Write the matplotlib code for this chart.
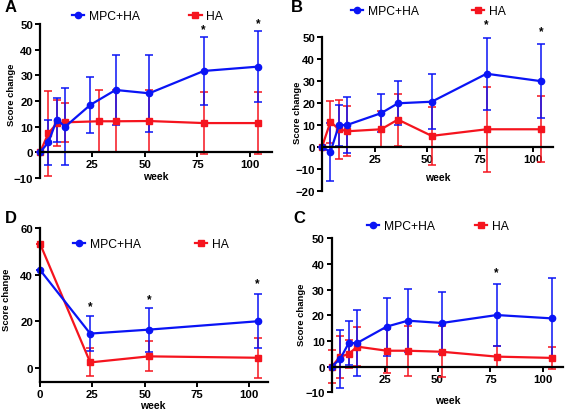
import matplotlib
matplotlib.use("Agg")
import matplotlib.pyplot as plt
from matplotlib.lines import Line2D

plt.rcParams["font.family"] = ["Liberation Sans", "DejaVu Sans"]

BLUE = "#0a14f5"
RED = "#f5141e"

# ---- panel A ----
A_WEEKS_MPC = [0, 4, 8, 12, 24, 36, 52, 78, 104]
A_MPC = [0, 3.9, 12.7, 10, 18.5, 24.3, 23, 31.7, 33.4]
A_MPC_ERR = [0, 8.7, 8.5, 15, 11, 13.8, 15, 13.3, 13.9]
A_WEEKS_HA = [0, 4, 8, 12, 28, 36, 52, 78, 104]
A_HA = [0, 7.4, 11.3, 11.7, 12.1, 12.1, 12.2, 11.4, 11.4]
A_HA_ERR = [0, 16.6, 9, 7.7, 12, 12.1, 12.2, 12, 12]
A_STARS = [(78, 47.8), (104, 50.4)]

# ---- panel B ----
B_WEEKS = [0, 4, 8, 12, 28, 36, 52, 78, 104]
B_MPC = [0, -2.3, 9.8, 10, 15.3, 19.8, 20.5, 33.2, 29.8]
B_MPC_ERR = [0, 13, 9.3, 12.8, 8.7, 10, 12.5, 16.3, 16.7]
B_HA = [0, 11.4, 8, 7.1, 8, 12.4, 5, 8, 8]
B_HA_ERR = [0, 9.6, 13.5, 11.4, 8.2, 11.8, 13.3, 19.4, 15]
B_STARS = [(78, 55.5), (104, 52.4)]

# ---- panel C ----
C_WEEKS = [0, 4, 8, 12, 26, 36, 52, 78, 104]
C_MPC = [0, 3, 9.1, 9.2, 15.6, 17.9, 17, 20.1, 18.8]
C_MPC_ERR = [0, 11.2, 8.5, 13, 11.3, 12.3, 12, 12, 15.6]
C_HA = [0, 3.9, 4.9, 7.8, 6.2, 6.2, 5.8, 3.9, 3.4]
C_HA_ERR = [6.4, 8.2, 5.6, 7.6, 8.5, 9.8, 9.9, 4, 4.4]
C_STARS = [(78, 37)]

# ---- panel D ----
D_WEEKS = [0, 24, 52, 104]
D_MPC = [42.1, 14.7, 16.4, 20]
D_MPC_ERR = [0, 7.7, 9.5, 11.6]
D_HA = [53.4, 2.3, 4.9, 4.3]
D_HA_ERR = [0, 6, 6.5, 8.6]
D_STARS = [(24, 26.6), (52, 29.7), (104, 36.4)]

W, H = 567, 414


def px_axes(fig, left, right, top, bottom):
    # axes placed by pixel edges measured on the reference
    return fig.add_axes([left / W, 1 - bottom / H, (right - left) / W, (bottom - top) / H])


def draw_series(ax, x, y, err, color, marker):
    cont = ax.errorbar(x, y, yerr=err, fmt=marker + "-", color=color, ms=4.5, lw=1.6,
                       elinewidth=1.1, capsize=2.6, capthick=1.1, mec=color)
    for child in cont.get_children():
        child.set_clip_on(False)


def style_axes(ax, xlim, ylim, yticks, xticks, zero_axis=True):
    ax.set_xlim(*xlim)
    ax.set_ylim(*ylim)
    ax.spines["top"].set_visible(False)
    ax.spines["right"].set_visible(False)
    for s in ("left", "bottom"):
        ax.spines[s].set_linewidth(1.6)
    if zero_axis:
        ax.spines["bottom"].set_position(("data", 0))
    ax.set_yticks(yticks)
    ax.set_xticks(xticks)
    ax.tick_params(width=1.4, length=3.5, labelsize=8.2, pad=1.5)
    for lab in ax.get_xticklabels() + ax.get_yticklabels():
        lab.set_fontweight("bold")
    ax.patch.set_visible(False)


def add_legend(ax, fig, x, y, spacing):
    handles = [Line2D([], [], color=BLUE, marker="o", ms=4.5, lw=1.6),
               Line2D([], [], color=RED, marker="s", ms=4.5, lw=1.6)]
    ax.legend(handles, ["MPC+HA", "HA"], loc="center left",
              bbox_to_anchor=(x / W, 1 - y / H), bbox_transform=fig.transFigure,
              ncol=2, frameon=False, fontsize=8.7, handlelength=1.0,
              handletextpad=0.4, columnspacing=spacing, borderpad=0, borderaxespad=0)


def add_stars(ax, stars):
    for sx, sy in stars:
        ax.text(sx, sy, "*", ha="center", va="center", fontsize=8.5, fontweight="bold")


def add_texts(fig, ylab_xy, week_xy, letter_xy, letter):
    fig.text(ylab_xy[0] / W, 1 - ylab_xy[1] / H, "Score change", rotation=90,
             ha="center", va="center", fontsize=6.8, fontweight="bold")
    fig.text(week_xy[0] / W, 1 - week_xy[1] / H, "week", ha="center", va="center",
             fontsize=7.5, fontweight="bold")
    fig.text(letter_xy[0] / W, 1 - letter_xy[1] / H, letter, ha="left", va="center",
             fontsize=12, fontweight="bold")


fig = plt.figure(figsize=(W / 100, H / 100), dpi=100)

# A
ax = px_axes(fig, 40, 272, 25, 179)
draw_series(ax, A_WEEKS_HA, A_HA, A_HA_ERR, RED, "s")
draw_series(ax, A_WEEKS_MPC, A_MPC, A_MPC_ERR, BLUE, "o")
style_axes(ax, (0, 110.5), (-10, 50), range(-10, 51, 10), [25, 50, 75, 100])
add_stars(ax, A_STARS)
add_legend(ax, fig, 72, 17, 4.1)
add_texts(fig, (12, 95), (156, 177), (5, 8), "A")

# B
ax = px_axes(fig, 322, 553, 37.7, 192)
draw_series(ax, B_WEEKS, B_HA, B_HA_ERR, RED, "s")
draw_series(ax, B_WEEKS, B_MPC, B_MPC_ERR, BLUE, "o")
style_axes(ax, (0, 109.5), (-20, 50), range(-20, 51, 10), [25, 50, 75, 100])
add_stars(ax, B_STARS)
add_legend(ax, fig, 351, 12, 4.4)
add_texts(fig, (297, 113), (438, 178), (291, 8), "B")

# D
ax = px_axes(fig, 40, 268, 229.3, 382.7)
draw_series(ax, D_WEEKS, D_HA, D_HA_ERR, RED, "s")
draw_series(ax, D_WEEKS, D_MPC, D_MPC_ERR, BLUE, "o")
style_axes(ax, (0, 109), (-6, 60), [0, 20, 40, 60], [0, 25, 50, 75, 100], zero_axis=False)
add_stars(ax, D_STARS)
add_legend(ax, fig, 73, 245, 4.5)
add_texts(fig, (7, 300), (153, 406), (5, 219), "D")

# C
ax = px_axes(fig, 331.7, 563, 239.3, 393.3)
draw_series(ax, C_WEEKS, C_HA, C_HA_ERR, RED, "s")
draw_series(ax, C_WEEKS, C_MPC, C_MPC_ERR, BLUE, "o")
style_axes(ax, (0, 109.3), (-10, 50), range(-10, 51, 10), [25, 50, 75, 100])
add_stars(ax, C_STARS)
add_legend(ax, fig, 367, 227, 3.3)
add_texts(fig, (302, 315), (448, 401), (293, 219), "C")

fig.savefig("out.png", dpi=100)
